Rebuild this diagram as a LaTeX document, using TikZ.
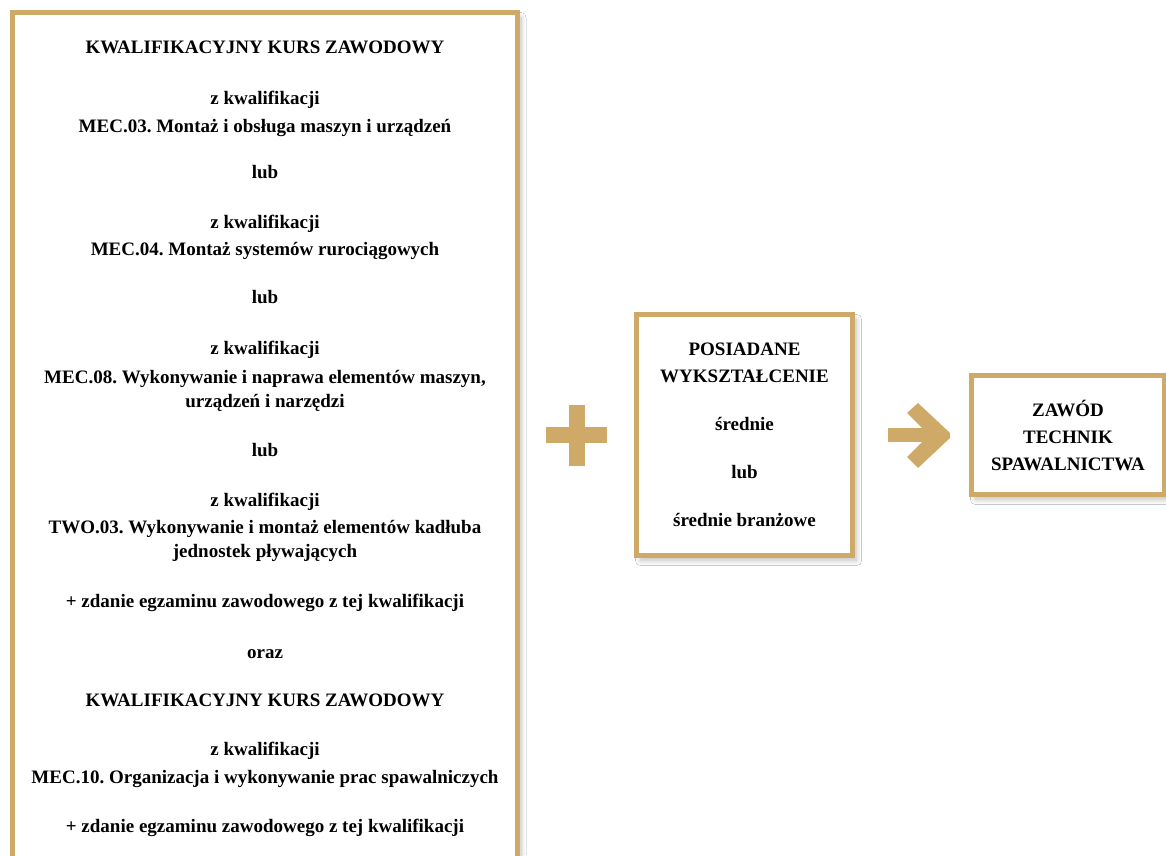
\documentclass[tikz,border=0pt]{standalone}
\usepackage{fontspec}
\setmainfont{Liberation Serif}
\usepackage{xcolor}
\usetikzlibrary{calc, shadows.blur}

\definecolor{gold}{RGB}{206,169,104}

\tikzset{
	txt/.style={font=\fontsize{19}{27}\selectfont\bfseries\frenchspacing, text=black, inner sep=0pt},
	goldbox/.style={draw=gold, line width=5pt, fill=white,
		blur shadow={shadow xshift=4pt, shadow yshift=-5pt, shadow blur radius=5pt, shadow blur steps=12, shadow opacity=25}},
}

\begin{document}
\begin{tikzpicture}[x=1pt, y=-1pt]
			\def\W{1166};
			\def\H{855};

			% canvas
			\useasboundingbox (0,0) rectangle (\W,\H);
			\clip (0,0) rectangle (\W,\H);
			\fill[white] (0,0) rectangle (\W,\H);

			% left column
			\begin{scope}
				\draw[goldbox] (12.5,12.5) rectangle (517,920);
				\foreach \y/\t [count=\i] in {
					47/KWALIFIKACYJNY KURS ZAWODOWY,
					98/z kwalifikacji,
					126/MEC.03. Montaż i obsługa maszyn i urządzeń,
					172/lub,
					222/z kwalifikacji,
					249/MEC.04. Montaż systemów rurociągowych,
					297/lub,
					348/z kwalifikacji,
					{377/MEC.08. Wykonywanie i naprawa elementów maszyn,},
					401/urządzeń i narzędzi,
					450/lub,
					500/z kwalifikacji,
					527/TWO.03. Wykonywanie i montaż elementów kadłuba,
					551/jednostek pływających,
					601/+ zdanie egzaminu zawodowego z tej kwalifikacji,
					652/oraz,
					700/KWALIFIKACYJNY KURS ZAWODOWY,
					749/z kwalifikacji,
					777/MEC.10. Organizacja i wykonywanie prac spawalniczych,
					826/+ zdanie egzaminu zawodowego z tej kwalifikacji}
				{
					\node[txt, anchor=base] (line\i) at (265,\y+6) {\t};
				}
			\end{scope}

			% plus
			\begin{scope}[gold]
				\fill (546,427) rectangle (607,443);
				\fill (569,405) rectangle (585,466);
			\end{scope}

			% middle box
			\node[goldbox, txt, align=center, minimum width=216pt, minimum height=241pt] (edu) at (744.5,435)
				{POSIADANE\\WYKSZTAŁCENIE\\[21pt]średnie\\[21pt]lub\\[21pt]średnie branżowe};

			% arrow
			\begin{scope}[gold]
				\fill (888,428) rectangle (936,442);
				\fill (907,413) -- (918,403) -- (950,433) -- (950,438) -- (918,468) -- (907,457) -- (929,435) -- cycle;
			\end{scope}

			% right box
			\node[goldbox, txt, align=center, minimum width=193pt, minimum height=119pt] (job) at (1068,435)
				{ZAWÓD\\TECHNIK\\SPAWALNICTWA};
		\end{tikzpicture}
\end{document}
